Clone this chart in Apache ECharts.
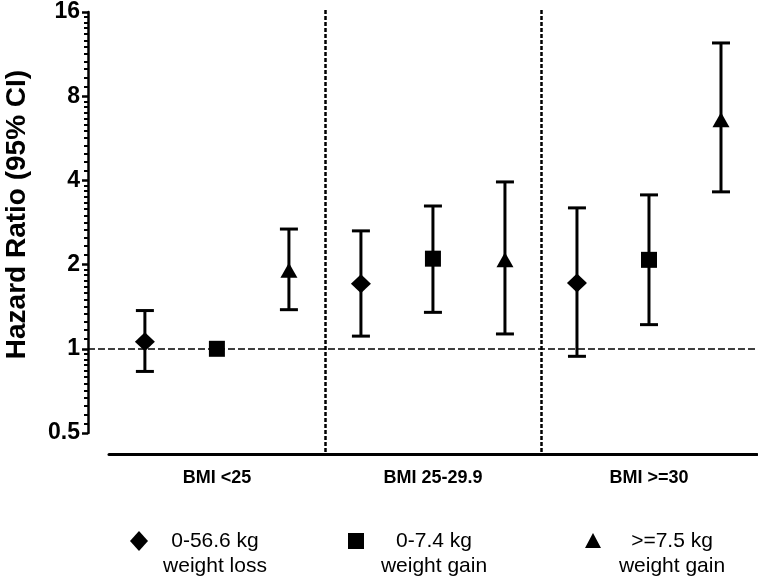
<!DOCTYPE html>
<html><head><meta charset="utf-8">
<script src="https://cdn.jsdelivr.net/npm/echarts@6/dist/echarts.min.js"></script>
<style>html,body{margin:0;padding:0;background:#fff}#c{width:758px;height:579px}</style>
</head><body><div id="c"></div>
<script>
// ---- data ----
const groups = ['BMI <25', 'BMI 25-29.9', 'BMI >=30'];
const seriesNames = ['0-56.6 kg weight loss', '0-7.4 kg weight gain', '>=7.5 kg weight gain'];
const legendLine1 = ['0-56.6 kg', '0-7.4 kg', '>=7.5 kg'];
const legendLine2 = ['weight loss', 'weight gain', 'weight gain'];
const hr    = [[1.06, 1.71, 1.72], [1.00, 2.10, 2.08], [1.91, 2.08, 6.59]];
const lower = [[0.83, 1.11, 0.94], [null, 1.35, 1.22], [1.38, 1.13, 3.64]];
const upper = [[1.37, 2.64, 3.19], [null, 3.24, 3.55], [2.68, 3.95, 12.4]];
const yTicks = [0.5, 1, 2, 4, 8, 16];
const refValue = 1;

// ---- styling ----
const FONT = '"Liberation Sans", Arial, sans-serif';
const symbols = ['diamond', 'rect', 'triangle'];
const symbolSizes = [[20, 19], [16, 16], [17, 15]];
const nS = seriesNames.length;

const chart = echarts.init(document.getElementById('c'), null, {renderer: 'canvas'});

const series = [];
seriesNames.forEach((name, s) => {
  const errData = [];
  groups.forEach((g, gi) => {
    if (lower[s][gi] != null) errData.push([gi * nS + s, lower[s][gi], upper[s][gi]]);
  });
  series.push({
    type: 'custom', name: name + ' CI', xAxisIndex: 0, yAxisIndex: 0, z: 3, silent: true,
    data: errData,
    renderItem: function (params, api) {
      const x = api.value(0);
      const lo = api.coord([x, api.value(1)]);
      const hi = api.coord([x, api.value(2)]);
      const cw = 9;
      const st = {stroke: '#000', lineWidth: 3};
      return {type: 'group', children: [
        {type: 'line', shape: {x1: lo[0], y1: lo[1], x2: hi[0], y2: hi[1]}, style: st},
        {type: 'line', shape: {x1: lo[0] - cw, y1: lo[1], x2: lo[0] + cw, y2: lo[1]}, style: st},
        {type: 'line', shape: {x1: hi[0] - cw, y1: hi[1], x2: hi[0] + cw, y2: hi[1]}, style: st}
      ]};
    }
  });
  const sc = {
    type: 'scatter', name: name, xAxisIndex: 0, yAxisIndex: 0, z: 5,
    symbol: symbols[s], symbolSize: symbolSizes[s],
    itemStyle: {color: '#000', opacity: 1},
    data: groups.map((g, gi) => [gi * nS + s, hr[s][gi]])
  };
  if (s === 0) {
    sc.markLine = {
      silent: true, symbol: 'none', label: {show: false},
      lineStyle: {color: '#000', type: [7, 3], width: 1.5},
      data: [{yAxis: refValue}]
    };
  }
  series.push(sc);
});

// legend drawn as graphic
const legendSym = [
  {type: 'polygon', shape: {points: [[139, 531], [148, 541], [139, 551], [130, 541]]}},
  {type: 'rect', shape: {x: 348, y: 533, width: 16, height: 16}},
  {type: 'polygon', shape: {points: [[593, 533], [601, 548], [585, 548]]}}
];
const legendTextX = [215, 434, 672];
const graphic = [];
legendSym.forEach((g, i) => {
  g.style = {fill: '#000'};
  graphic.push(g);
  graphic.push({type: 'text', x: legendTextX[i], y: 541, style: {text: legendLine1[i], fill: '#000', font: '21px ' + FONT, textAlign: 'center', textVerticalAlign: 'middle'}});
  graphic.push({type: 'text', x: legendTextX[i], y: 566, style: {text: legendLine2[i], fill: '#000', font: '21px ' + FONT, textAlign: 'center', textVerticalAlign: 'middle'}});
});

chart.setOption({
  animation: false,
  backgroundColor: '#fff',
  textStyle: {fontFamily: FONT},
  grid: [
    {left: 88, right: 1, top: 12, bottom: 146, containLabel: false, outerBoundsMode: 'none'},
    {left: 109, right: 1, top: 10, bottom: 125, containLabel: false, outerBoundsMode: 'none'}
  ],
  xAxis: [
    {type: 'value', gridIndex: 0, min: -0.79, max: 8.5, show: false},
    {type: 'category', gridIndex: 1, data: groups, position: 'bottom',
     axisLine: {show: true, lineStyle: {color: '#000', width: 3}},
     axisTick: {show: false},
     axisLabel: {color: '#000', fontWeight: 'bold', fontSize: 18, fontFamily: FONT, margin: 15},
     splitLine: {show: true, showMinLine: false, showMaxLine: false, lineStyle: {color: '#000', type: [4, 2], width: 2.5}}}
  ],
  yAxis: [
    {type: 'log', logBase: 2, gridIndex: 0, min: yTicks[0], max: yTicks[yTicks.length - 1], splitNumber: yTicks.length - 1,
     name: 'Hazard Ratio (95% CI)', nameLocation: 'middle', nameGap: 57,
     nameTextStyle: {color: '#000', fontWeight: 'bold', fontSize: 28, fontFamily: FONT, padding: [0, 0, 0, 16]},
     axisLine: {show: true, onZero: false, lineStyle: {color: '#000', width: 2.5}},
     axisTick: {show: true, length: 6, lineStyle: {color: '#000', width: 2.5}},
     minorTick: {show: true, splitNumber: 12, length: 4, lineStyle: {color: '#000', width: 2}},
     splitLine: {show: false},
     axisLabel: {color: '#000', fontWeight: 'bold', fontSize: 23, fontFamily: FONT, margin: 8,
                 formatter: v => String(Math.round(v * 100) / 100)}},
    {type: 'value', gridIndex: 1, show: false, min: 0, max: 1}
  ],
  graphic: graphic,
  series: series
});
</script>
</body></html>
